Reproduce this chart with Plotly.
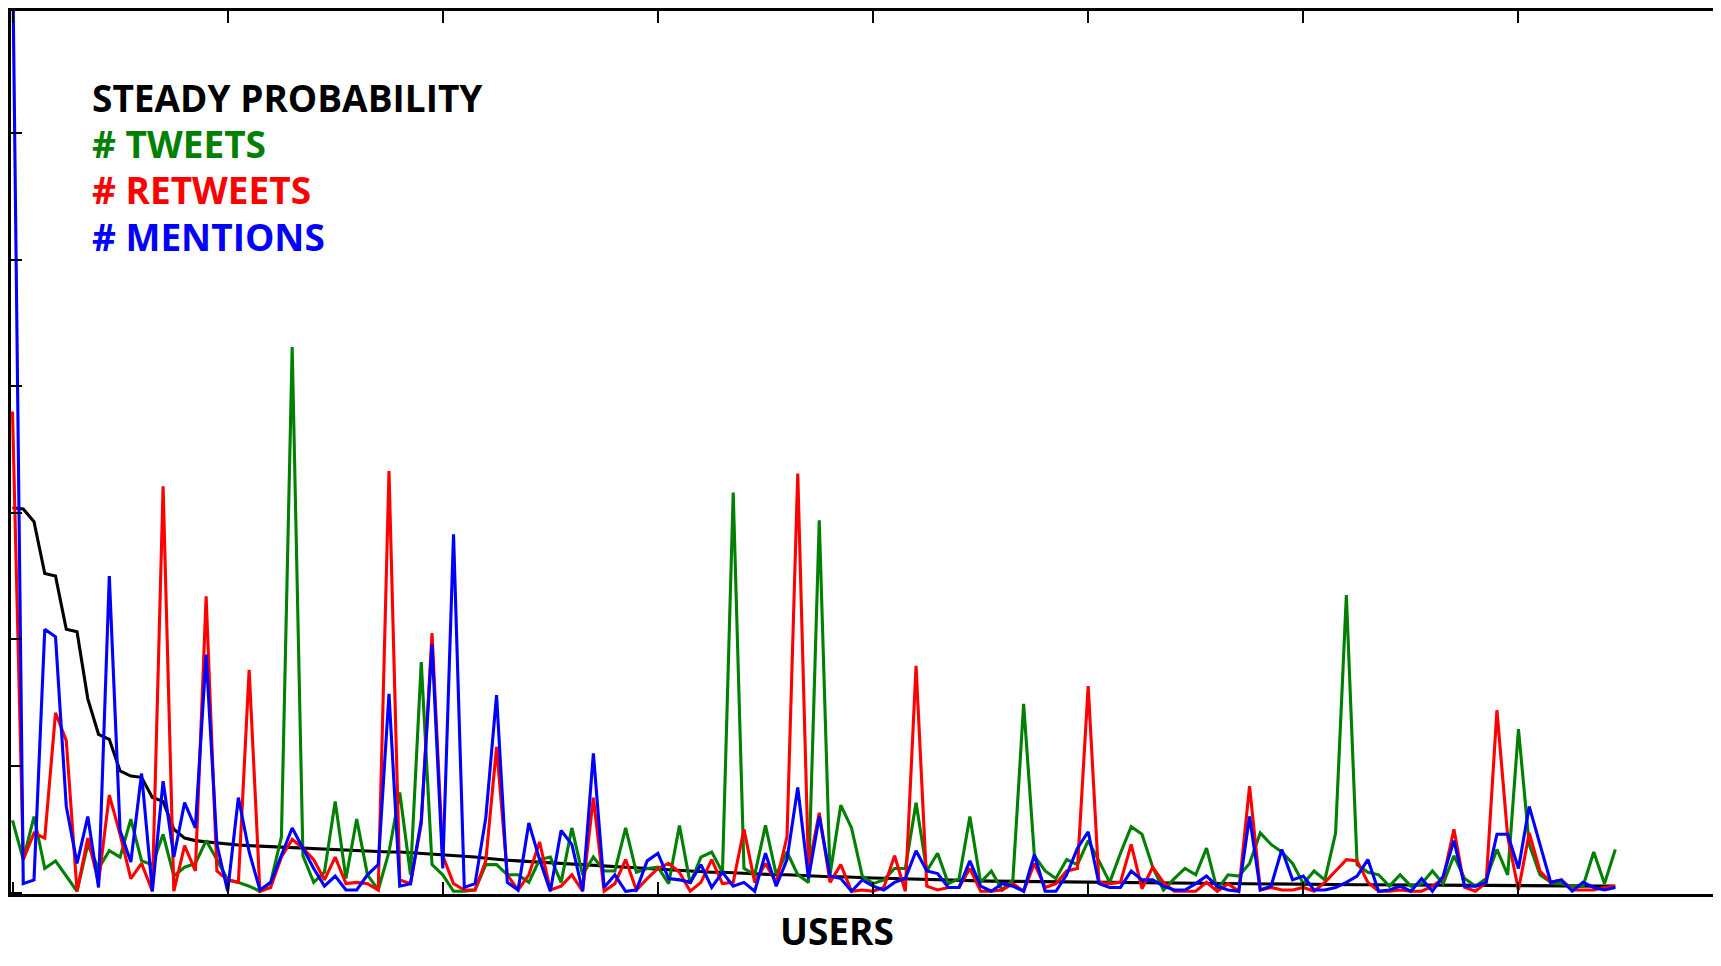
import plotly.graph_objects as go

users = list(range(150))

steady_probability = [
    3.04, 3.03, 2.93, 2.52, 2.50, 2.08, 2.06, 1.53, 1.25, 1.21,
    0.96, 0.92, 0.91, 0.75, 0.72, 0.50, 0.43, 0.41, 0.40, 0.39,
    0.38, 0.375, 0.37, 0.366, 0.363, 0.36, 0.36, 0.355, 0.35, 0.345,
    0.34, 0.335, 0.33, 0.33, 0.325, 0.32, 0.32, 0.315, 0.31, 0.305,
    0.30, 0.295, 0.29, 0.28, 0.27, 0.26, 0.255, 0.25, 0.245, 0.24,
    0.23, 0.225, 0.22, 0.22, 0.215, 0.21, 0.205, 0.20, 0.195, 0.19,
    0.185, 0.18, 0.175, 0.17, 0.165, 0.16, 0.16, 0.155, 0.15, 0.15,
    0.145, 0.14, 0.14, 0.135, 0.13, 0.13, 0.125, 0.125, 0.12, 0.12,
    0.115, 0.113, 0.11, 0.108, 0.105, 0.103, 0.10, 0.098, 0.096, 0.094,
    0.092, 0.09, 0.089, 0.088, 0.087, 0.086, 0.085, 0.084, 0.083, 0.082,
    0.081, 0.08, 0.079, 0.078, 0.077, 0.076, 0.075, 0.074, 0.073, 0.072,
    0.071, 0.07, 0.069, 0.068, 0.067, 0.066, 0.066, 0.065, 0.065, 0.064,
    0.064, 0.063, 0.063, 0.062, 0.062, 0.061, 0.061, 0.060, 0.060, 0.060,
    0.059, 0.059, 0.058, 0.058, 0.057, 0.057, 0.056, 0.056, 0.055, 0.055,
    0.054, 0.054, 0.053, 0.053, 0.052, 0.052, 0.051, 0.051, 0.050, 0.050,
]

tweets = [
    0.57, 0.26, 0.60, 0.19, 0.25, 0.13, 0.01, 0.38, 0.19, 0.33,
    0.28, 0.58, 0.25, 0.22, 0.46, 0.13, 0.20, 0.23, 0.41, 0.26,
    0.10, 0.08, 0.05, 0.01, 0.08, 0.44, 4.31, 0.29, 0.08, 0.16,
    0.72, 0.11, 0.58, 0.14, 0.02, 0.32, 0.79, 0.14, 1.82, 0.22,
    0.14, 0.01, 0.01, 0.02, 0.22, 0.22, 0.14, 0.14, 0.08, 0.26,
    0.28, 0.08, 0.51, 0.14, 0.28, 0.17, 0.17, 0.51, 0.16, 0.19,
    0.20, 0.07, 0.53, 0.07, 0.28, 0.32, 0.16, 3.16, 0.19, 0.14,
    0.53, 0.14, 0.32, 0.14, 0.08, 2.94, 0.14, 0.69, 0.51, 0.13,
    0.07, 0.10, 0.19, 0.19, 0.71, 0.17, 0.31, 0.07, 0.11, 0.60,
    0.08, 0.17, 0.02, 0.10, 1.49, 0.29, 0.17, 0.11, 0.26, 0.22,
    0.41, 0.25, 0.08, 0.31, 0.52, 0.46, 0.20, 0.02, 0.11, 0.19,
    0.14, 0.35, 0.02, 0.14, 0.13, 0.23, 0.47, 0.38, 0.32, 0.23,
    0.07, 0.17, 0.10, 0.47, 2.35, 0.22, 0.16, 0.14, 0.05, 0.14,
    0.05, 0.07, 0.17, 0.07, 0.29, 0.11, 0.05, 0.11, 0.34, 0.14,
    1.29, 0.38, 0.14, 0.08, 0.07, 0.05, 0.05, 0.32, 0.07, 0.34,
]

retweets = [
    3.80, 0.26, 0.47, 0.43, 1.42, 1.20, 0.01, 0.43, 0.08, 0.77,
    0.46, 0.11, 0.23, 0.01, 3.21, 0.01, 0.37, 0.17, 2.34, 0.17,
    0.10, 0.08, 1.76, 0.01, 0.04, 0.28, 0.42, 0.35, 0.26, 0.10,
    0.28, 0.07, 0.08, 0.07, 0.02, 3.33, 0.10, 0.07, 0.54, 2.05,
    0.29, 0.07, 0.02, 0.02, 0.25, 1.15, 0.14, 0.02, 0.14, 0.40,
    0.02, 0.05, 0.14, 0.01, 0.75, 0.01, 0.07, 0.26, 0.02, 0.11,
    0.19, 0.23, 0.16, 0.01, 0.08, 0.26, 0.07, 0.08, 0.50, 0.08,
    0.23, 0.08, 0.44, 3.31, 0.19, 0.63, 0.08, 0.22, 0.01, 0.02,
    0.01, 0.04, 0.29, 0.01, 1.79, 0.05, 0.02, 0.04, 0.04, 0.19,
    0.01, 0.01, 0.02, 0.07, 0.01, 0.23, 0.04, 0.07, 0.17, 0.19,
    1.63, 0.08, 0.07, 0.08, 0.38, 0.03, 0.20, 0.08, 0.01, 0.01,
    0.01, 0.08, 0.01, 0.07, 0.01, 0.84, 0.02, 0.04, 0.02, 0.02,
    0.04, 0.01, 0.08, 0.17, 0.26, 0.25, 0.08, 0.01, 0.01, 0.02,
    0.01, 0.01, 0.05, 0.11, 0.50, 0.04, 0.01, 0.08, 1.44, 0.44,
    0.02, 0.47, 0.17, 0.08, 0.10, 0.02, 0.02, 0.02, 0.04, 0.05,
]

mentions = [
    7.50, 0.07, 0.10, 2.08, 2.02, 0.68, 0.23, 0.60, 0.04, 2.50,
    0.49, 0.24, 0.94, 0.01, 0.88, 0.28, 0.71, 0.51, 1.88, 0.38,
    0.01, 0.75, 0.32, 0.02, 0.08, 0.29, 0.51, 0.35, 0.19, 0.05,
    0.13, 0.02, 0.02, 0.14, 0.22, 1.57, 0.05, 0.07, 0.57, 1.96,
    0.19, 2.83, 0.04, 0.07, 0.59, 1.56, 0.08, 0.02, 0.55, 0.26,
    0.01, 0.49, 0.38, 0.01, 1.10, 0.04, 0.14, 0.01, 0.02, 0.25,
    0.31, 0.11, 0.10, 0.08, 0.22, 0.04, 0.16, 0.05, 0.08, 0.01,
    0.31, 0.05, 0.26, 0.83, 0.11, 0.60, 0.13, 0.11, 0.01, 0.10,
    0.05, 0.02, 0.08, 0.11, 0.33, 0.17, 0.15, 0.04, 0.04, 0.25,
    0.05, 0.01, 0.07, 0.05, 0.01, 0.30, 0.01, 0.01, 0.14, 0.35,
    0.48, 0.07, 0.04, 0.04, 0.17, 0.10, 0.10, 0.05, 0.02, 0.02,
    0.07, 0.13, 0.05, 0.02, 0.01, 0.60, 0.02, 0.05, 0.34, 0.10,
    0.13, 0.02, 0.02, 0.04, 0.08, 0.13, 0.26, 0.01, 0.02, 0.05,
    0.01, 0.11, 0.01, 0.13, 0.41, 0.05, 0.05, 0.08, 0.46, 0.46,
    0.19, 0.68, 0.38, 0.08, 0.10, 0.01, 0.08, 0.04, 0.02, 0.04,
]

legend_labels = ["STEADY PROBABILITY", "# TWEETS", "# RETWEETS", "# MENTIONS"]
colors = ["#000000", "#008000", "#ff0000", "#0000ff"]
x_title = "USERS"
x_ticks = [0, 20, 40, 60, 80, 100, 120, 140, 160]
y_ticks = [0, 1, 2, 3, 4, 5, 6, 7]

# figure sized to fit inside the window together with the page's 8px body margin
W, H = 1705, 950
ML, MT, MB, MR = 2.5, 2.5, 63.5, 0
plot_w = W - ML - MR
plot_h = H - MT - MB
px_per_user = 10.76
px_per_unit = 887 / 7.0

fig = go.Figure()
for series, name, color in zip([steady_probability, tweets, retweets, mentions], legend_labels, colors):
    fig.add_trace(go.Scatter(x=users, y=series, mode="lines", name=name,
                             line=dict(color=color, width=3.1), showlegend=False))

font_family = "Open Sans"
ys = [0.9026, 0.8505, 0.7983, 0.7449]
for label, color, yy in zip(legend_labels, colors, ys):
    fig.add_annotation(text=f"<b>{label}</b>", xref="paper", yref="paper",
                       x=0.0467, y=yy, xanchor="left", yanchor="middle",
                       showarrow=False, font=dict(family=font_family, size=37, color=color))

# x-axis title: box bottom 1px above the figure's bottom edge
users_title_y = -(MB - 1.0) / plot_h
fig.add_annotation(text=f"<b>{x_title}</b>", xref="paper", yref="paper",
                   x=0.4855, y=users_title_y, xanchor="center", yanchor="bottom",
                   borderpad=0, borderwidth=0,
                   showarrow=False, font=dict(family=font_family, size=37, color="#000000"))

x0 = -1.5 / px_per_user
y0 = -1.5 / px_per_unit
fig.update_layout(
    xaxis=dict(range=[x0, x0 + plot_w / px_per_user], tickvals=x_ticks, showticklabels=False,
               ticks="inside", ticklen=12, tickwidth=2, tickcolor="#000",
               showline=True, linecolor="#000", linewidth=3.3, mirror="ticks",
               showgrid=False, zeroline=False),
    yaxis=dict(range=[y0, y0 + plot_h / px_per_unit], tickvals=y_ticks, showticklabels=False,
               ticks="inside", ticklen=11, tickwidth=2, tickcolor="#000",
               showline=True, linecolor="#000", linewidth=3.3, mirror=False,
               showgrid=False, zeroline=False),
    yaxis2=dict(range=[y0, y0 + plot_h / px_per_unit], tickvals=y_ticks, showticklabels=False,
                overlaying="y", side="right", anchor="x",
                ticks="inside", ticklen=11, tickwidth=2, tickcolor="#000",
                showline=False, showgrid=False, zeroline=False),
    width=W, height=H, margin=dict(l=ML, r=MR, t=MT, b=MB, pad=0),
    plot_bgcolor="white", paper_bgcolor="white",
    font=dict(family=font_family),
)

fig.write_html("out.html")
